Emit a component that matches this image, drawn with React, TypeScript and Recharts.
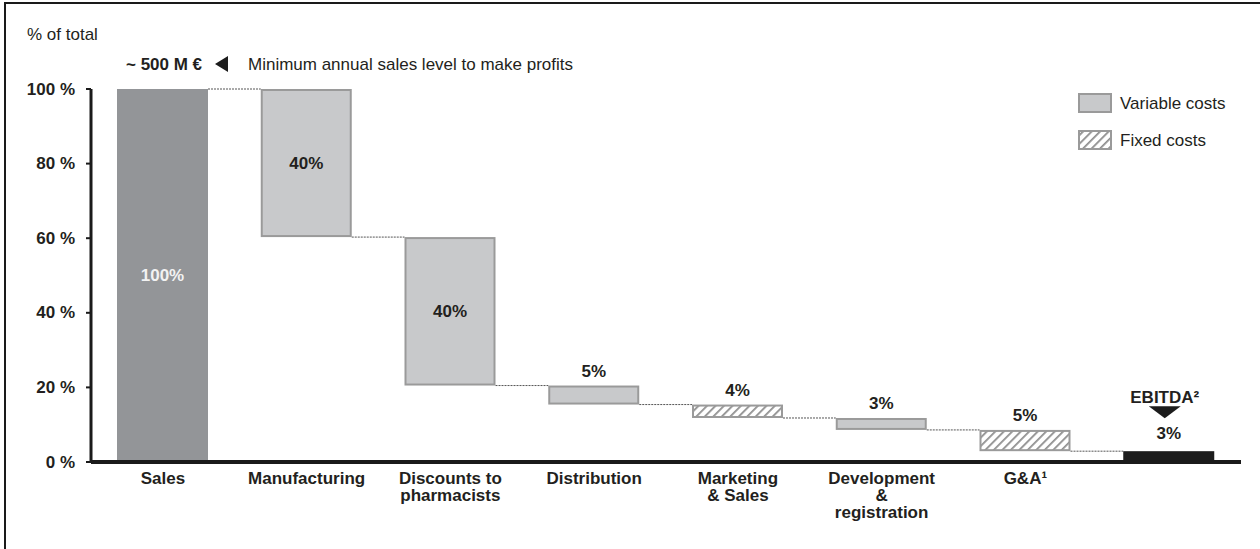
import React from 'react';
import { ComposedChart, Bar, XAxis, YAxis } from 'recharts';

const categories = ['Sales', 'Manufacturing', 'Discounts to\npharmacists', 'Distribution', 'Marketing\n& Sales', 'Development\n&\nregistration', 'G&A¹', 'EBITDA'];
const lowValues = [0, 60.3, 20.5, 15.4, 11.8, 8.6, 2.9, 0];
const highValues = [100, 100, 60.3, 20.5, 15.4, 11.8, 8.6, 2.9];
const valueLabels = ['100%', '40%', '40%', '5%', '4%', '3%', '5%', '3%'];
const costTypes = ['total', 'variable', 'variable', 'variable', 'fixed', 'variable', 'fixed', 'result'];
const yTicks = [0, 20, 40, 60, 80, 100];

const data = categories.map((name, i) => ({
  name,
  range: [lowValues[i], highValues[i]],
  label: valueLabels[i],
  type: costTypes[i],
}));

const W = 1260;
const H = 549;
const PLOT_LEFT = 91;
const PLOT_RIGHT = 1241;
const BAND = (PLOT_RIGHT - PLOT_LEFT) / data.length;
const FONT = '"Liberation Sans", Arial, Helvetica, sans-serif';
const INK = '#231f20';
const VAR_FILL = '#c8c9cb';
const EDGE = '#9a9a9a';

function WaterfallShape(props: any) {
  const { x, y, width, height, payload } = props;
  const t = payload.type;
  const cx = x + width / 2;
  let body: React.ReactNode;
  if (t === 'total') {
    body = <rect x={x} y={y} width={width} height={height} fill="#939598" />;
  } else if (t === 'result') {
    body = <rect x={x} y={y} width={width} height={height} fill="#1c1c1c" />;
  } else {
    body = (
      <rect
        x={x + 1}
        y={y + 1}
        width={width - 2}
        height={Math.max(height - 2, 0)}
        fill={t === 'fixed' ? 'url(#hatch)' : VAR_FILL}
        stroke={EDGE}
        strokeWidth={2}
      />
    );
  }
  const connY = t === 'total' ? y : y + height;
  const conn =
    t !== 'result' ? (
      <line x1={x + width} x2={x + BAND} y1={connY} y2={connY} stroke="#555" strokeWidth={1} strokeDasharray="2 1" />
    ) : null;

  let label: React.ReactNode;
  const textStyle = { fontFamily: FONT, fontSize: 17, fontWeight: 700 } as any;
  if (height > 60) {
    label = (
      <text x={cx} y={y + height / 2} textAnchor="middle" dominantBaseline="central" fill={t === 'total' ? '#f2f2f2' : INK} style={textStyle}>
        {payload.label}
      </text>
    );
  } else if (t === 'result') {
    const hx = cx - 4;
    label = (
      <g>
        <text x={hx} y={y - 54} textAnchor="middle" dominantBaseline="central" fill={INK} style={textStyle}>
          EBITDA²
        </text>
        <polygon points={`${hx - 16},${y - 45} ${hx + 16},${y - 45} ${hx},${y - 33}`} fill="#1c1c1c" />
        <text x={cx} y={y - 18} textAnchor="middle" dominantBaseline="central" fill={INK} style={textStyle}>
          {payload.label}
        </text>
      </g>
    );
  } else {
    label = (
      <text x={cx} y={y - 14} textAnchor="middle" dominantBaseline="central" fill={INK} style={textStyle}>
        {payload.label}
      </text>
    );
  }
  return (
    <g>
      {conn}
      {body}
      {label}
    </g>
  );
}

function XTick(props: any) {
  const { x, y, payload } = props;
  const value: string = payload.value;
  if (value === 'EBITDA') return null;
  const lines = value.split('\n');
  return (
    <g>
      {lines.map((ln, i) => (
        <text
          key={i}
          x={x}
          y={y + 16 + i * 17}
          textAnchor="middle"
          dominantBaseline="central"
          fill={INK}
          style={{ fontFamily: FONT, fontSize: 17, fontWeight: 700 }}
        >
          {ln}
        </text>
      ))}
    </g>
  );
}

function YTick(props: any) {
  const { x, y, payload } = props;
  return (
    <text x={x} y={y} textAnchor="end" dominantBaseline="central" fill={INK} style={{ fontFamily: FONT, fontSize: 17, fontWeight: 700 }}>
      {`${payload.value} %`}
    </text>
  );
}

export default function App() {
  const reg = { fontFamily: FONT, fontSize: 17, fill: INK } as any;
  return (
    <div style={{ position: 'absolute', left: 0, top: 0, width: W, height: H, background: '#fff' }}>
      <svg width={0} height={0} style={{ position: 'absolute' }}>
        <defs>
          <pattern id="hatch" patternUnits="userSpaceOnUse" width={6} height={6} patternTransform="rotate(45)">
            <rect width={6} height={6} fill="#ffffff" />
            <line x1={0} y1={0} x2={0} y2={6} stroke="#8c8c8c" strokeWidth={3.5} />
          </pattern>
        </defs>
      </svg>
      <ComposedChart
        width={W}
        height={H}
        data={data}
        margin={{ top: 89, right: W - PLOT_RIGHT, bottom: 57, left: 0 }}
      >
        <XAxis
          dataKey="name"
          interval={0}
          height={30}
          tick={<XTick />}
          tickLine={false}
          tickSize={0}
          tickMargin={0}
          axisLine={{ stroke: '#1a1a1a', strokeWidth: 4 }}
        />
        <YAxis
          domain={[0, 100]}
          ticks={yTicks}
          width={PLOT_LEFT}
          tick={<YTick />}
          tickSize={5}
          tickMargin={11}
          tickLine={{ stroke: '#1a1a1a', strokeWidth: 2 }}
          axisLine={{ stroke: '#1a1a1a', strokeWidth: 3 }}
        />
        <Bar dataKey="range" barSize={91} shape={<WaterfallShape />} isAnimationActive={false} />
      </ComposedChart>
      <svg width={W} height={H} style={{ position: 'absolute', left: 0, top: 0, pointerEvents: 'none' }}>
        <line x1={4} x2={W} y1={3} y2={3} stroke="#1a1a1a" strokeWidth={2} />
        <line x1={5} x2={5} y1={2} y2={H} stroke="#1a1a1a" strokeWidth={2} />
        <text x={27} y={34} dominantBaseline="central" style={reg}>% of total</text>
        <text x={126} y={64} dominantBaseline="central" style={{ ...reg, fontWeight: 700 }}>~ 500 M €</text>
        <polygon points="215,64 228,56 228,72" fill="#1c1c1c" />
        <text x={248} y={64} dominantBaseline="central" style={reg}>Minimum annual sales level to make profits</text>
        <rect x={1079} y={94} width={32} height={18} fill={VAR_FILL} stroke={EDGE} strokeWidth={2} />
        <text x={1120} y={103} dominantBaseline="central" style={reg}>Variable costs</text>
        <rect x={1079} y={131} width={32} height={18} fill="url(#hatch)" stroke={EDGE} strokeWidth={2} />
        <text x={1120} y={140} dominantBaseline="central" style={reg}>Fixed costs</text>
      </svg>
    </div>
  );
}
